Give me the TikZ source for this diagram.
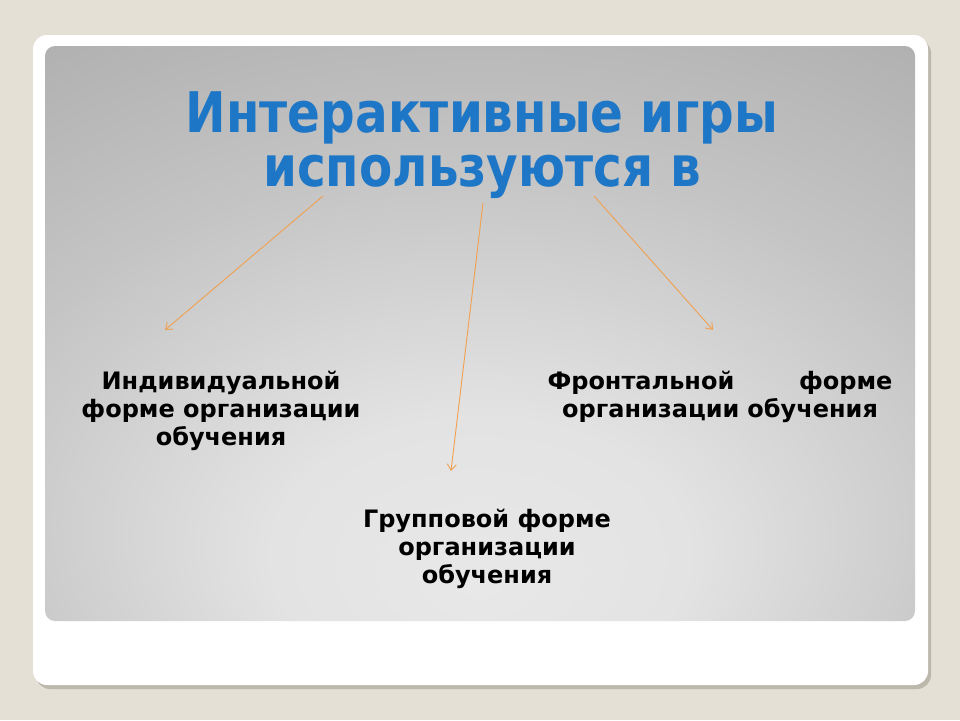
\documentclass[tikz,border=0pt]{standalone}
\usepackage{fontspec}
\setmainfont{DejaVu Sans}
\usetikzlibrary{arrows.meta}

\definecolor{slidebg}{HTML}{E5E0D6}
\definecolor{cardshadow}{HTML}{BDB8AC}
\definecolor{titleblue}{HTML}{1E76C6}
\definecolor{arroworange}{HTML}{F0A050}

\pgfdeclareradialshading{panelshade}{\pgfpoint{0bp}{-22bp}}{rgb(0bp)=(0.91,0.91,0.91);
  rgb(12bp)=(0.89,0.89,0.89); rgb(30bp)=(0.77,0.77,0.77); rgb(55bp)=(0.64,0.64,0.64);
  rgb(100bp)=(0.63,0.63,0.63)}

\tikzstyle{titletext} = [font=\bfseries\fontsize{56}{54}\selectfont,align=center,inner sep=0pt,anchor=base,xscale=0.865,transform shape]
\tikzstyle{formtext} = [font=\bfseries\fontsize{24}{28}\selectfont,align=center,inner sep=0pt,anchor=base]
\tikzstyle{arrowdecorate} = [-{Straight Barb[length=6pt,width=9pt]},draw=arroworange,line width=0.9pt]

\begin{document}
\begin{tikzpicture}[x=1pt,y=-1pt]

      %% slide background
      \fill[slidebg] (0,0) rectangle (960,720);
      \useasboundingbox (0,0) rectangle (960,720);
      \fill[cardshadow,rounded corners=14pt] (36,39) rectangle (931,689);
      \fill[white,rounded corners=14pt] (33,35) rectangle (928,685);
      \shade[shading=panelshade,rounded corners=10pt] (45,46) rectangle (915,621);

      %% title
      \begin{scope}[shift={(482,186)}]
        \node[titletext,text=titleblue] (title) at (0,0) {Интерактивные игры\\используются в};
      \end{scope}

      %% forms
      \node[formtext] (indiv) at (221,445) {Индивидуальной\\форме организации\\обучения};
      \node[formtext] (group) at (487,583) {Групповой форме\\организации\\обучения};
      \node[formtext,text width=345pt] (front) at (720,389) {Фронтальной\hskip 0pt plus 1filll форме\\организации обучения};

      \foreach \pointname/\x/\y in {ta/323/196, tb/483/203, tc/594/196,
        ia/165/330, gb/451/471, fc/713/330}
      {
        \coordinate (\pointname) at (\x,\y);
      }

      %% arrows
      \path
      \foreach \startnode/\endnode in {ta/ia, tb/gb, tc/fc}
      {
        (\startnode) edge[arrowdecorate] (\endnode)
      };
    \end{tikzpicture}
\end{document}
